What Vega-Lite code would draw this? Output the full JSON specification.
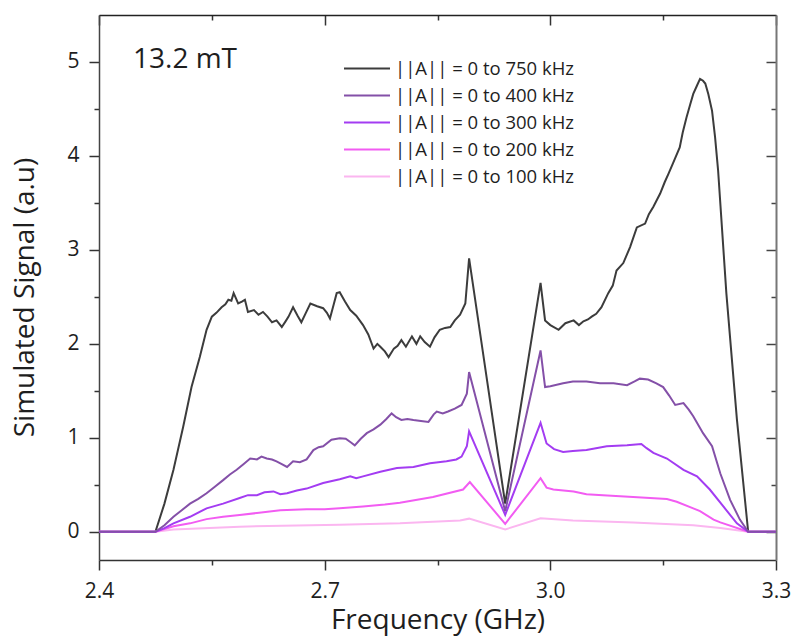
{
  "$schema": "https://vega.github.io/schema/vega-lite/v6.json",
  "width": 677,
  "height": 545,
  "autosize": {"type": "none"},
  "padding": {"left": 99, "top": 15, "right": 19, "bottom": 80},
  "background": "white",
  "config": {"view": {"stroke": null}, "font": "Open Sans"},
  "datasets": {
    "curves": [
      {"s": "||A|| = 0 to 750 kHz", "f": 2.4, "v": 0}, {"s": "||A|| = 0 to 750 kHz", "f": 2.475, "v": 0}, {"s": "||A|| = 0 to 750 kHz", "f": 2.487, "v": 0.3}, {"s": "||A|| = 0 to 750 kHz", "f": 2.499, "v": 0.66}, {"s": "||A|| = 0 to 750 kHz", "f": 2.512, "v": 1.12}, {"s": "||A|| = 0 to 750 kHz", "f": 2.523, "v": 1.54}, {"s": "||A|| = 0 to 750 kHz", "f": 2.534, "v": 1.86}, {"s": "||A|| = 0 to 750 kHz", "f": 2.543, "v": 2.15}, {"s": "||A|| = 0 to 750 kHz", "f": 2.55, "v": 2.29}, {"s": "||A|| = 0 to 750 kHz", "f": 2.556, "v": 2.33}, {"s": "||A|| = 0 to 750 kHz", "f": 2.563, "v": 2.39}, {"s": "||A|| = 0 to 750 kHz", "f": 2.568, "v": 2.42}, {"s": "||A|| = 0 to 750 kHz", "f": 2.572, "v": 2.47}, {"s": "||A|| = 0 to 750 kHz", "f": 2.576, "v": 2.46}, {"s": "||A|| = 0 to 750 kHz", "f": 2.579, "v": 2.54}, {"s": "||A|| = 0 to 750 kHz", "f": 2.585, "v": 2.43}, {"s": "||A|| = 0 to 750 kHz", "f": 2.59, "v": 2.45}, {"s": "||A|| = 0 to 750 kHz", "f": 2.594, "v": 2.47}, {"s": "||A|| = 0 to 750 kHz", "f": 2.598, "v": 2.34}, {"s": "||A|| = 0 to 750 kHz", "f": 2.606, "v": 2.36}, {"s": "||A|| = 0 to 750 kHz", "f": 2.612, "v": 2.31}, {"s": "||A|| = 0 to 750 kHz", "f": 2.618, "v": 2.34}, {"s": "||A|| = 0 to 750 kHz", "f": 2.624, "v": 2.29}, {"s": "||A|| = 0 to 750 kHz", "f": 2.63, "v": 2.23}, {"s": "||A|| = 0 to 750 kHz", "f": 2.636, "v": 2.25}, {"s": "||A|| = 0 to 750 kHz", "f": 2.643, "v": 2.18}, {"s": "||A|| = 0 to 750 kHz", "f": 2.648, "v": 2.24}, {"s": "||A|| = 0 to 750 kHz", "f": 2.652, "v": 2.29}, {"s": "||A|| = 0 to 750 kHz", "f": 2.658, "v": 2.39}, {"s": "||A|| = 0 to 750 kHz", "f": 2.664, "v": 2.3}, {"s": "||A|| = 0 to 750 kHz", "f": 2.669, "v": 2.23}, {"s": "||A|| = 0 to 750 kHz", "f": 2.675, "v": 2.33}, {"s": "||A|| = 0 to 750 kHz", "f": 2.681, "v": 2.43}, {"s": "||A|| = 0 to 750 kHz", "f": 2.69, "v": 2.4}, {"s": "||A|| = 0 to 750 kHz", "f": 2.698, "v": 2.38}, {"s": "||A|| = 0 to 750 kHz", "f": 2.703, "v": 2.33}, {"s": "||A|| = 0 to 750 kHz", "f": 2.707, "v": 2.27}, {"s": "||A|| = 0 to 750 kHz", "f": 2.712, "v": 2.42}, {"s": "||A|| = 0 to 750 kHz", "f": 2.716, "v": 2.54}, {"s": "||A|| = 0 to 750 kHz", "f": 2.72, "v": 2.55}, {"s": "||A|| = 0 to 750 kHz", "f": 2.727, "v": 2.45}, {"s": "||A|| = 0 to 750 kHz", "f": 2.734, "v": 2.36}, {"s": "||A|| = 0 to 750 kHz", "f": 2.742, "v": 2.3}, {"s": "||A|| = 0 to 750 kHz", "f": 2.751, "v": 2.2}, {"s": "||A|| = 0 to 750 kHz", "f": 2.758, "v": 2.1}, {"s": "||A|| = 0 to 750 kHz", "f": 2.765, "v": 1.95}, {"s": "||A|| = 0 to 750 kHz", "f": 2.77, "v": 2.0}, {"s": "||A|| = 0 to 750 kHz", "f": 2.774, "v": 1.97}, {"s": "||A|| = 0 to 750 kHz", "f": 2.78, "v": 1.92}, {"s": "||A|| = 0 to 750 kHz", "f": 2.785, "v": 1.86}, {"s": "||A|| = 0 to 750 kHz", "f": 2.792, "v": 1.95}, {"s": "||A|| = 0 to 750 kHz", "f": 2.797, "v": 1.98}, {"s": "||A|| = 0 to 750 kHz", "f": 2.802, "v": 2.04}, {"s": "||A|| = 0 to 750 kHz", "f": 2.808, "v": 1.97}, {"s": "||A|| = 0 to 750 kHz", "f": 2.816, "v": 2.08}, {"s": "||A|| = 0 to 750 kHz", "f": 2.822, "v": 2.0}, {"s": "||A|| = 0 to 750 kHz", "f": 2.827, "v": 2.08}, {"s": "||A|| = 0 to 750 kHz", "f": 2.833, "v": 2.02}, {"s": "||A|| = 0 to 750 kHz", "f": 2.84, "v": 1.97}, {"s": "||A|| = 0 to 750 kHz", "f": 2.846, "v": 2.07}, {"s": "||A|| = 0 to 750 kHz", "f": 2.853, "v": 2.15}, {"s": "||A|| = 0 to 750 kHz", "f": 2.86, "v": 2.17}, {"s": "||A|| = 0 to 750 kHz", "f": 2.867, "v": 2.18}, {"s": "||A|| = 0 to 750 kHz", "f": 2.873, "v": 2.25}, {"s": "||A|| = 0 to 750 kHz", "f": 2.88, "v": 2.31}, {"s": "||A|| = 0 to 750 kHz", "f": 2.887, "v": 2.43}, {"s": "||A|| = 0 to 750 kHz", "f": 2.892, "v": 2.91}, {"s": "||A|| = 0 to 750 kHz", "f": 2.94, "v": 0.3}, {"s": "||A|| = 0 to 750 kHz", "f": 2.987, "v": 2.65}, {"s": "||A|| = 0 to 750 kHz", "f": 2.993, "v": 2.25}, {"s": "||A|| = 0 to 750 kHz", "f": 3.0, "v": 2.2}, {"s": "||A|| = 0 to 750 kHz", "f": 3.011, "v": 2.15}, {"s": "||A|| = 0 to 750 kHz", "f": 3.02, "v": 2.22}, {"s": "||A|| = 0 to 750 kHz", "f": 3.031, "v": 2.25}, {"s": "||A|| = 0 to 750 kHz", "f": 3.038, "v": 2.2}, {"s": "||A|| = 0 to 750 kHz", "f": 3.044, "v": 2.24}, {"s": "||A|| = 0 to 750 kHz", "f": 3.05, "v": 2.26}, {"s": "||A|| = 0 to 750 kHz", "f": 3.055, "v": 2.29}, {"s": "||A|| = 0 to 750 kHz", "f": 3.061, "v": 2.32}, {"s": "||A|| = 0 to 750 kHz", "f": 3.068, "v": 2.39}, {"s": "||A|| = 0 to 750 kHz", "f": 3.077, "v": 2.54}, {"s": "||A|| = 0 to 750 kHz", "f": 3.083, "v": 2.62}, {"s": "||A|| = 0 to 750 kHz", "f": 3.088, "v": 2.78}, {"s": "||A|| = 0 to 750 kHz", "f": 3.097, "v": 2.86}, {"s": "||A|| = 0 to 750 kHz", "f": 3.106, "v": 3.03}, {"s": "||A|| = 0 to 750 kHz", "f": 3.115, "v": 3.24}, {"s": "||A|| = 0 to 750 kHz", "f": 3.126, "v": 3.28}, {"s": "||A|| = 0 to 750 kHz", "f": 3.131, "v": 3.38}, {"s": "||A|| = 0 to 750 kHz", "f": 3.137, "v": 3.46}, {"s": "||A|| = 0 to 750 kHz", "f": 3.146, "v": 3.6}, {"s": "||A|| = 0 to 750 kHz", "f": 3.152, "v": 3.72}, {"s": "||A|| = 0 to 750 kHz", "f": 3.157, "v": 3.81}, {"s": "||A|| = 0 to 750 kHz", "f": 3.163, "v": 3.92}, {"s": "||A|| = 0 to 750 kHz", "f": 3.172, "v": 4.09}, {"s": "||A|| = 0 to 750 kHz", "f": 3.176, "v": 4.25}, {"s": "||A|| = 0 to 750 kHz", "f": 3.181, "v": 4.41}, {"s": "||A|| = 0 to 750 kHz", "f": 3.186, "v": 4.55}, {"s": "||A|| = 0 to 750 kHz", "f": 3.19, "v": 4.66}, {"s": "||A|| = 0 to 750 kHz", "f": 3.195, "v": 4.75}, {"s": "||A|| = 0 to 750 kHz", "f": 3.199, "v": 4.82}, {"s": "||A|| = 0 to 750 kHz", "f": 3.203, "v": 4.8}, {"s": "||A|| = 0 to 750 kHz", "f": 3.206, "v": 4.77}, {"s": "||A|| = 0 to 750 kHz", "f": 3.21, "v": 4.66}, {"s": "||A|| = 0 to 750 kHz", "f": 3.215, "v": 4.48}, {"s": "||A|| = 0 to 750 kHz", "f": 3.219, "v": 4.2}, {"s": "||A|| = 0 to 750 kHz", "f": 3.223, "v": 3.85}, {"s": "||A|| = 0 to 750 kHz", "f": 3.234, "v": 2.54}, {"s": "||A|| = 0 to 750 kHz", "f": 3.248, "v": 1.2}, {"s": "||A|| = 0 to 750 kHz", "f": 3.263, "v": 0}, {"s": "||A|| = 0 to 750 kHz", "f": 3.3, "v": 0},

      {"s": "||A|| = 0 to 100 kHz", "f": 2.4, "v": 0}, {"s": "||A|| = 0 to 100 kHz", "f": 2.475, "v": 0}, {"s": "||A|| = 0 to 100 kHz", "f": 2.499, "v": 0.025}, {"s": "||A|| = 0 to 100 kHz", "f": 2.587, "v": 0.055}, {"s": "||A|| = 0 to 100 kHz", "f": 2.72, "v": 0.075}, {"s": "||A|| = 0 to 100 kHz", "f": 2.8, "v": 0.09}, {"s": "||A|| = 0 to 100 kHz", "f": 2.88, "v": 0.12}, {"s": "||A|| = 0 to 100 kHz", "f": 2.892, "v": 0.14}, {"s": "||A|| = 0 to 100 kHz", "f": 2.94, "v": 0.025}, {"s": "||A|| = 0 to 100 kHz", "f": 2.987, "v": 0.145}, {"s": "||A|| = 0 to 100 kHz", "f": 3.03, "v": 0.12}, {"s": "||A|| = 0 to 100 kHz", "f": 3.11, "v": 0.1}, {"s": "||A|| = 0 to 100 kHz", "f": 3.19, "v": 0.07}, {"s": "||A|| = 0 to 100 kHz", "f": 3.226, "v": 0.04}, {"s": "||A|| = 0 to 100 kHz", "f": 3.263, "v": 0}, {"s": "||A|| = 0 to 100 kHz", "f": 3.3, "v": 0},

      {"s": "||A|| = 0 to 200 kHz", "f": 2.4, "v": 0}, {"s": "||A|| = 0 to 200 kHz", "f": 2.475, "v": 0}, {"s": "||A|| = 0 to 200 kHz", "f": 2.499, "v": 0.06}, {"s": "||A|| = 0 to 200 kHz", "f": 2.521, "v": 0.09}, {"s": "||A|| = 0 to 200 kHz", "f": 2.543, "v": 0.135}, {"s": "||A|| = 0 to 200 kHz", "f": 2.565, "v": 0.16}, {"s": "||A|| = 0 to 200 kHz", "f": 2.587, "v": 0.18}, {"s": "||A|| = 0 to 200 kHz", "f": 2.61, "v": 0.2}, {"s": "||A|| = 0 to 200 kHz", "f": 2.641, "v": 0.23}, {"s": "||A|| = 0 to 200 kHz", "f": 2.676, "v": 0.24}, {"s": "||A|| = 0 to 200 kHz", "f": 2.7, "v": 0.24}, {"s": "||A|| = 0 to 200 kHz", "f": 2.72, "v": 0.25}, {"s": "||A|| = 0 to 200 kHz", "f": 2.751, "v": 0.27}, {"s": "||A|| = 0 to 200 kHz", "f": 2.78, "v": 0.29}, {"s": "||A|| = 0 to 200 kHz", "f": 2.8, "v": 0.31}, {"s": "||A|| = 0 to 200 kHz", "f": 2.844, "v": 0.37}, {"s": "||A|| = 0 to 200 kHz", "f": 2.884, "v": 0.45}, {"s": "||A|| = 0 to 200 kHz", "f": 2.893, "v": 0.53}, {"s": "||A|| = 0 to 200 kHz", "f": 2.94, "v": 0.085}, {"s": "||A|| = 0 to 200 kHz", "f": 2.987, "v": 0.57}, {"s": "||A|| = 0 to 200 kHz", "f": 2.995, "v": 0.47}, {"s": "||A|| = 0 to 200 kHz", "f": 3.004, "v": 0.45}, {"s": "||A|| = 0 to 200 kHz", "f": 3.031, "v": 0.43}, {"s": "||A|| = 0 to 200 kHz", "f": 3.048, "v": 0.4}, {"s": "||A|| = 0 to 200 kHz", "f": 3.07, "v": 0.39}, {"s": "||A|| = 0 to 200 kHz", "f": 3.11, "v": 0.37}, {"s": "||A|| = 0 to 200 kHz", "f": 3.155, "v": 0.35}, {"s": "||A|| = 0 to 200 kHz", "f": 3.168, "v": 0.32}, {"s": "||A|| = 0 to 200 kHz", "f": 3.19, "v": 0.25}, {"s": "||A|| = 0 to 200 kHz", "f": 3.199, "v": 0.22}, {"s": "||A|| = 0 to 200 kHz", "f": 3.217, "v": 0.13}, {"s": "||A|| = 0 to 200 kHz", "f": 3.226, "v": 0.1}, {"s": "||A|| = 0 to 200 kHz", "f": 3.263, "v": 0}, {"s": "||A|| = 0 to 200 kHz", "f": 3.3, "v": 0},

      {"s": "||A|| = 0 to 300 kHz", "f": 2.4, "v": 0}, {"s": "||A|| = 0 to 300 kHz", "f": 2.475, "v": 0}, {"s": "||A|| = 0 to 300 kHz", "f": 2.487, "v": 0.04}, {"s": "||A|| = 0 to 300 kHz", "f": 2.499, "v": 0.09}, {"s": "||A|| = 0 to 300 kHz", "f": 2.521, "v": 0.16}, {"s": "||A|| = 0 to 300 kHz", "f": 2.543, "v": 0.25}, {"s": "||A|| = 0 to 300 kHz", "f": 2.565, "v": 0.3}, {"s": "||A|| = 0 to 300 kHz", "f": 2.587, "v": 0.36}, {"s": "||A|| = 0 to 300 kHz", "f": 2.598, "v": 0.39}, {"s": "||A|| = 0 to 300 kHz", "f": 2.61, "v": 0.39}, {"s": "||A|| = 0 to 300 kHz", "f": 2.62, "v": 0.42}, {"s": "||A|| = 0 to 300 kHz", "f": 2.632, "v": 0.43}, {"s": "||A|| = 0 to 300 kHz", "f": 2.641, "v": 0.4}, {"s": "||A|| = 0 to 300 kHz", "f": 2.65, "v": 0.41}, {"s": "||A|| = 0 to 300 kHz", "f": 2.663, "v": 0.44}, {"s": "||A|| = 0 to 300 kHz", "f": 2.676, "v": 0.46}, {"s": "||A|| = 0 to 300 kHz", "f": 2.698, "v": 0.52}, {"s": "||A|| = 0 to 300 kHz", "f": 2.72, "v": 0.56}, {"s": "||A|| = 0 to 300 kHz", "f": 2.734, "v": 0.59}, {"s": "||A|| = 0 to 300 kHz", "f": 2.742, "v": 0.57}, {"s": "||A|| = 0 to 300 kHz", "f": 2.751, "v": 0.59}, {"s": "||A|| = 0 to 300 kHz", "f": 2.774, "v": 0.64}, {"s": "||A|| = 0 to 300 kHz", "f": 2.796, "v": 0.68}, {"s": "||A|| = 0 to 300 kHz", "f": 2.818, "v": 0.69}, {"s": "||A|| = 0 to 300 kHz", "f": 2.84, "v": 0.73}, {"s": "||A|| = 0 to 300 kHz", "f": 2.862, "v": 0.75}, {"s": "||A|| = 0 to 300 kHz", "f": 2.875, "v": 0.77}, {"s": "||A|| = 0 to 300 kHz", "f": 2.882, "v": 0.8}, {"s": "||A|| = 0 to 300 kHz", "f": 2.889, "v": 0.91}, {"s": "||A|| = 0 to 300 kHz", "f": 2.892, "v": 1.07}, {"s": "||A|| = 0 to 300 kHz", "f": 2.94, "v": 0.18}, {"s": "||A|| = 0 to 300 kHz", "f": 2.987, "v": 1.16}, {"s": "||A|| = 0 to 300 kHz", "f": 2.995, "v": 0.94}, {"s": "||A|| = 0 to 300 kHz", "f": 3.005, "v": 0.88}, {"s": "||A|| = 0 to 300 kHz", "f": 3.017, "v": 0.85}, {"s": "||A|| = 0 to 300 kHz", "f": 3.03, "v": 0.86}, {"s": "||A|| = 0 to 300 kHz", "f": 3.048, "v": 0.87}, {"s": "||A|| = 0 to 300 kHz", "f": 3.075, "v": 0.91}, {"s": "||A|| = 0 to 300 kHz", "f": 3.102, "v": 0.92}, {"s": "||A|| = 0 to 300 kHz", "f": 3.121, "v": 0.935}, {"s": "||A|| = 0 to 300 kHz", "f": 3.128, "v": 0.89}, {"s": "||A|| = 0 to 300 kHz", "f": 3.137, "v": 0.84}, {"s": "||A|| = 0 to 300 kHz", "f": 3.155, "v": 0.78}, {"s": "||A|| = 0 to 300 kHz", "f": 3.177, "v": 0.66}, {"s": "||A|| = 0 to 300 kHz", "f": 3.195, "v": 0.59}, {"s": "||A|| = 0 to 300 kHz", "f": 3.212, "v": 0.45}, {"s": "||A|| = 0 to 300 kHz", "f": 3.23, "v": 0.27}, {"s": "||A|| = 0 to 300 kHz", "f": 3.248, "v": 0.09}, {"s": "||A|| = 0 to 300 kHz", "f": 3.263, "v": 0}, {"s": "||A|| = 0 to 300 kHz", "f": 3.3, "v": 0},

      {"s": "||A|| = 0 to 400 kHz", "f": 2.4, "v": 0}, {"s": "||A|| = 0 to 400 kHz", "f": 2.475, "v": 0}, {"s": "||A|| = 0 to 400 kHz", "f": 2.487, "v": 0.07}, {"s": "||A|| = 0 to 400 kHz", "f": 2.499, "v": 0.16}, {"s": "||A|| = 0 to 400 kHz", "f": 2.51, "v": 0.23}, {"s": "||A|| = 0 to 400 kHz", "f": 2.521, "v": 0.3}, {"s": "||A|| = 0 to 400 kHz", "f": 2.532, "v": 0.35}, {"s": "||A|| = 0 to 400 kHz", "f": 2.543, "v": 0.41}, {"s": "||A|| = 0 to 400 kHz", "f": 2.554, "v": 0.48}, {"s": "||A|| = 0 to 400 kHz", "f": 2.565, "v": 0.55}, {"s": "||A|| = 0 to 400 kHz", "f": 2.574, "v": 0.61}, {"s": "||A|| = 0 to 400 kHz", "f": 2.583, "v": 0.66}, {"s": "||A|| = 0 to 400 kHz", "f": 2.592, "v": 0.72}, {"s": "||A|| = 0 to 400 kHz", "f": 2.601, "v": 0.78}, {"s": "||A|| = 0 to 400 kHz", "f": 2.61, "v": 0.77}, {"s": "||A|| = 0 to 400 kHz", "f": 2.616, "v": 0.8}, {"s": "||A|| = 0 to 400 kHz", "f": 2.623, "v": 0.78}, {"s": "||A|| = 0 to 400 kHz", "f": 2.63, "v": 0.77}, {"s": "||A|| = 0 to 400 kHz", "f": 2.636, "v": 0.75}, {"s": "||A|| = 0 to 400 kHz", "f": 2.643, "v": 0.72}, {"s": "||A|| = 0 to 400 kHz", "f": 2.65, "v": 0.69}, {"s": "||A|| = 0 to 400 kHz", "f": 2.658, "v": 0.75}, {"s": "||A|| = 0 to 400 kHz", "f": 2.667, "v": 0.74}, {"s": "||A|| = 0 to 400 kHz", "f": 2.676, "v": 0.77}, {"s": "||A|| = 0 to 400 kHz", "f": 2.685, "v": 0.87}, {"s": "||A|| = 0 to 400 kHz", "f": 2.692, "v": 0.9}, {"s": "||A|| = 0 to 400 kHz", "f": 2.698, "v": 0.91}, {"s": "||A|| = 0 to 400 kHz", "f": 2.709, "v": 0.98}, {"s": "||A|| = 0 to 400 kHz", "f": 2.72, "v": 0.996}, {"s": "||A|| = 0 to 400 kHz", "f": 2.728, "v": 0.99}, {"s": "||A|| = 0 to 400 kHz", "f": 2.735, "v": 0.95}, {"s": "||A|| = 0 to 400 kHz", "f": 2.74, "v": 0.92}, {"s": "||A|| = 0 to 400 kHz", "f": 2.748, "v": 0.99}, {"s": "||A|| = 0 to 400 kHz", "f": 2.756, "v": 1.05}, {"s": "||A|| = 0 to 400 kHz", "f": 2.765, "v": 1.09}, {"s": "||A|| = 0 to 400 kHz", "f": 2.774, "v": 1.14}, {"s": "||A|| = 0 to 400 kHz", "f": 2.782, "v": 1.2}, {"s": "||A|| = 0 to 400 kHz", "f": 2.789, "v": 1.26}, {"s": "||A|| = 0 to 400 kHz", "f": 2.795, "v": 1.22}, {"s": "||A|| = 0 to 400 kHz", "f": 2.802, "v": 1.19}, {"s": "||A|| = 0 to 400 kHz", "f": 2.81, "v": 1.2}, {"s": "||A|| = 0 to 400 kHz", "f": 2.818, "v": 1.19}, {"s": "||A|| = 0 to 400 kHz", "f": 2.828, "v": 1.18}, {"s": "||A|| = 0 to 400 kHz", "f": 2.838, "v": 1.17}, {"s": "||A|| = 0 to 400 kHz", "f": 2.845, "v": 1.25}, {"s": "||A|| = 0 to 400 kHz", "f": 2.849, "v": 1.28}, {"s": "||A|| = 0 to 400 kHz", "f": 2.857, "v": 1.26}, {"s": "||A|| = 0 to 400 kHz", "f": 2.864, "v": 1.28}, {"s": "||A|| = 0 to 400 kHz", "f": 2.873, "v": 1.31}, {"s": "||A|| = 0 to 400 kHz", "f": 2.882, "v": 1.35}, {"s": "||A|| = 0 to 400 kHz", "f": 2.889, "v": 1.47}, {"s": "||A|| = 0 to 400 kHz", "f": 2.892, "v": 1.7}, {"s": "||A|| = 0 to 400 kHz", "f": 2.94, "v": 0.22}, {"s": "||A|| = 0 to 400 kHz", "f": 2.987, "v": 1.93}, {"s": "||A|| = 0 to 400 kHz", "f": 2.993, "v": 1.54}, {"s": "||A|| = 0 to 400 kHz", "f": 3.0, "v": 1.55}, {"s": "||A|| = 0 to 400 kHz", "f": 3.017, "v": 1.58}, {"s": "||A|| = 0 to 400 kHz", "f": 3.03, "v": 1.6}, {"s": "||A|| = 0 to 400 kHz", "f": 3.048, "v": 1.6}, {"s": "||A|| = 0 to 400 kHz", "f": 3.066, "v": 1.58}, {"s": "||A|| = 0 to 400 kHz", "f": 3.084, "v": 1.58}, {"s": "||A|| = 0 to 400 kHz", "f": 3.102, "v": 1.56}, {"s": "||A|| = 0 to 400 kHz", "f": 3.112, "v": 1.6}, {"s": "||A|| = 0 to 400 kHz", "f": 3.119, "v": 1.63}, {"s": "||A|| = 0 to 400 kHz", "f": 3.13, "v": 1.62}, {"s": "||A|| = 0 to 400 kHz", "f": 3.141, "v": 1.58}, {"s": "||A|| = 0 to 400 kHz", "f": 3.15, "v": 1.54}, {"s": "||A|| = 0 to 400 kHz", "f": 3.158, "v": 1.45}, {"s": "||A|| = 0 to 400 kHz", "f": 3.166, "v": 1.35}, {"s": "||A|| = 0 to 400 kHz", "f": 3.177, "v": 1.37}, {"s": "||A|| = 0 to 400 kHz", "f": 3.184, "v": 1.3}, {"s": "||A|| = 0 to 400 kHz", "f": 3.19, "v": 1.23}, {"s": "||A|| = 0 to 400 kHz", "f": 3.203, "v": 1.05}, {"s": "||A|| = 0 to 400 kHz", "f": 3.215, "v": 0.91}, {"s": "||A|| = 0 to 400 kHz", "f": 3.226, "v": 0.62}, {"s": "||A|| = 0 to 400 kHz", "f": 3.239, "v": 0.34}, {"s": "||A|| = 0 to 400 kHz", "f": 3.252, "v": 0.13}, {"s": "||A|| = 0 to 400 kHz", "f": 3.263, "v": 0}, {"s": "||A|| = 0 to 400 kHz", "f": 3.3, "v": 0}
    ],
    "note": [{"f": 2.4452, "v": 4.935, "t": "13.2 mT"}]
  },
  "data": {"name": "curves"},
  "layer": [
    {
      "mark": {"type": "line", "strokeWidth": 2},
      "encoding": {
        "x": {
          "field": "f", "type": "quantitative",
          "scale": {"domain": [2.4, 3.3], "nice": false, "zero": false},
          "axis": {
            "orient": "bottom", "grid": false,
            "values": [2.4, 2.55, 2.7, 2.85, 3.0, 3.15, 3.3],
            "labelExpr": "round(datum.value*100) % 30 == 0 ? format(datum.value, '.1f') : ''",
            "labelFontSize": 21, "labelColor": "#1e1e1e", "labelPadding": 10,
            "labelFlush": false, "labelOverlap": false, "labelBound": false,
            "tickSize": {"expr": "round(datum.value*100) % 30 == 0 ? 10 : 5"},
            "tickWidth": 1.5, "tickColor": "#333",
            "domainColor": "#333", "domainWidth": 1.5,
            "title": "Frequency (GHz)", "titleFontSize": 28, "titleFontWeight": "normal", "titleColor": "#1e1e1e", "titlePadding": 5
          }
        },
        "y": {
          "field": "v", "type": "quantitative",
          "scale": {"domain": [-0.3, 5.5], "nice": false, "zero": false},
          "axis": {
            "orient": "left", "grid": false,
            "values": [0, 0.5, 1, 1.5, 2, 2.5, 3, 3.5, 4, 4.5, 5],
            "labelExpr": "datum.value % 1 == 0 ? format(datum.value, 'd') : ''",
            "labelFontSize": 21, "labelColor": "#1e1e1e", "labelPadding": 10,
            "labelFlush": false, "labelOverlap": false, "labelBound": false,
            "tickSize": {"expr": "datum.value % 1 == 0 ? 10 : 5"},
            "tickWidth": 1.5, "tickColor": "#333",
            "domainColor": "#444", "domainWidth": 1.5,
            "title": "Simulated Signal (a.u)", "titleFontSize": 28, "titleFontWeight": "normal", "titleColor": "#1e1e1e", "titlePadding": 27, "titleY": 282
          }
        },
        "color": {
          "field": "s", "type": "nominal",
          "scale": {
            "domain": ["||A|| = 0 to 750 kHz", "||A|| = 0 to 400 kHz", "||A|| = 0 to 300 kHz", "||A|| = 0 to 200 kHz", "||A|| = 0 to 100 kHz"],
            "range": ["#3c3c3c", "#8450a8", "#a33cf2", "#f25cf2", "#fbb6f0"]
          },
          "legend": {
            "orient": "none", "legendX": 244, "legendY": 40, "title": null,
            "symbolType": "stroke", "symbolSize": 2116, "symbolStrokeWidth": 2,
            "clipHeight": 27, "rowPadding": 0, "padding": 0,
            "labelFontSize": 18.5, "labelColor": "#1e1e1e", "labelOffset": 4, "labelLimit": 0
          }
        }
      }
    },
    {
      "mark": {"type": "line", "opacity": 0},
      "encoding": {
        "x": {
          "field": "f", "type": "quantitative",
          "axis": {
            "orient": "top", "grid": false, "labels": false, "title": null,
            "values": [2.4, 2.55, 2.7, 2.85, 3.0, 3.15, 3.3],
            "tickSize": {"expr": "round(datum.value*100) % 30 == 0 ? -10 : -5"},
            "tickWidth": 1.5, "tickColor": "#333",
            "domainColor": "#222", "domainWidth": 1.5
          }
        },
        "y": {
          "field": "v", "type": "quantitative",
          "axis": {
            "orient": "right", "grid": false, "labels": false, "title": null,
            "values": [0, 0.5, 1, 1.5, 2, 2.5, 3, 3.5, 4, 4.5, 5],
            "tickSize": {"expr": "datum.value % 1 == 0 ? -10 : -5"},
            "tickWidth": 1.5, "tickColor": "#444",
            "domainColor": "#777", "domainWidth": 2
          }
        }
      }
    },
    {
      "data": {"name": "note"},
      "mark": {"type": "text", "align": "left", "baseline": "alphabetic", "fontSize": 28, "color": "#1e1e1e"},
      "encoding": {
        "x": {"field": "f", "type": "quantitative", "axis": null},
        "y": {"field": "v", "type": "quantitative", "axis": null},
        "text": {"field": "t"}
      }
    }
  ],
  "resolve": {"axis": {"x": "independent", "y": "independent"}}
}
